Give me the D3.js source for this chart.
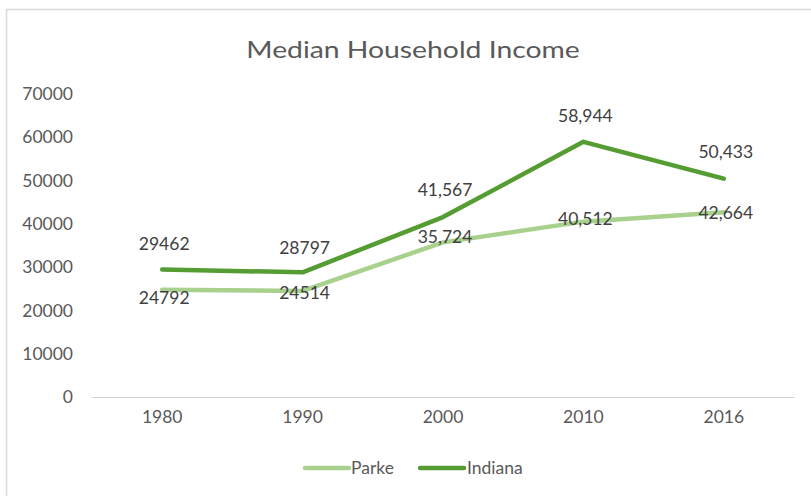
<!DOCTYPE html>
<html>
<head>
<meta charset="utf-8">
<script src="https://cdn.jsdelivr.net/npm/d3@7"></script>
<style>
  html, body { margin: 0; padding: 0; background: #fff; }
  svg { display: block; font-family: Lato, "Open Sans", sans-serif; }
</style>
</head>
<body>
<svg id="chart" width="811" height="496"></svg>
<script>
// Median household income, Parke County vs. Indiana
const years = ["1980", "1990", "2000", "2010", "2016"];
const parke = [24792, 24514, 35724, 40512, 42664];
const indiana = [29462, 28797, 41567, 58944, 50433];
const parkeLabels = ["24792", "24514", "35,724", "40,512", "42,664"];
const indianaLabels = ["29462", "28797", "41,567", "58,944", "50,433"];
const yTicks = [0, 10000, 20000, 30000, 40000, 50000, 60000, 70000];

const svg = d3.select("#chart");
const W = 811, H = 496;
const plot = { left: 92, right: 794, top: 94, bottom: 397 };
const FS = 17.5;

// chart frame
svg.append("rect")
  .attr("x", 6.5).attr("y", 9.5)
  .attr("width", W + 10).attr("height", H + 10)
  .attr("fill", "#fff").attr("stroke", "#d9d9d9").attr("stroke-width", 1.5);

svg.append("text")
  .attr("transform", "translate(413,58) scale(1.18,1)")
  .attr("text-anchor", "middle")
  .attr("font-size", 24)
  .attr("fill", "#595959")
  .text("Median Household Income");

const x = d3.scaleBand().domain(years).range([plot.left, plot.right]);
const y = d3.scaleLinear().domain([0, 70000]).range([plot.bottom, plot.top]);
const cx = d => x(d) + x.bandwidth() / 2;

// y axis labels (no line)
const yAxis = svg.append("g")
  .attr("transform", `translate(${plot.left - 8},0)`)
  .call(d3.axisLeft(y).tickValues(yTicks).tickSize(0).tickPadding(11).tickFormat(d3.format("d")));
yAxis.select(".domain").remove();
yAxis.selectAll("text").attr("font-size", FS).attr("fill", "#595959").attr("font-family", "Lato, sans-serif");

// x axis
const xAxis = svg.append("g")
  .attr("transform", `translate(0,${plot.bottom})`)
  .call(d3.axisBottom(x).tickSize(0).tickPadding(14));
xAxis.select(".domain").attr("stroke", "#d0d0d0").attr("stroke-width", 1.2);
xAxis.selectAll("text").attr("font-size", FS).attr("fill", "#595959").attr("font-family", "Lato, sans-serif");

const line = d3.line().x(d => cx(d.year)).y(d => y(d.value));
const series = [
  { name: "Parke", values: parke, labels: parkeLabels, color: "#a9d18e", dy: [8, 2, -5, -3, 1] },
  { name: "Indiana", values: indiana, labels: indianaLabels, color: "#559c33", dy: [-26, -24, -27, -26, -27] }
];

series.forEach(s => {
  const pts = years.map((yr, i) => ({ year: yr, value: s.values[i] }));
  svg.append("path")
    .datum(pts)
    .attr("d", line)
    .attr("fill", "none")
    .attr("stroke", s.color)
    .attr("stroke-width", 4.5)
    .attr("stroke-linejoin", "round")
    .attr("stroke-linecap", "round");
});

series.forEach(s => {
  svg.append("g").selectAll("text")
    .data(years)
    .join("text")
    .attr("x", (d, i) => cx(d) + 2)
    .attr("y", (d, i) => y(s.values[i]) + s.dy[i])
    .attr("dy", "0.35em")
    .attr("text-anchor", "middle")
    .attr("font-size", FS)
    .attr("fill", "#404040")
    .text((d, i) => s.labels[i]);
});

// legend
const legend = svg.append("g").attr("transform", "translate(305,468)");
const items = [
  { s: series[0], x: 0, tx: 46 },
  { s: series[1], x: 115, tx: 162 }
];
items.forEach(it => {
  legend.append("line")
    .attr("x1", it.x).attr("x2", it.x + 44)
    .attr("y1", 0).attr("y2", 0)
    .attr("stroke", it.s.color).attr("stroke-width", 4.5).attr("stroke-linecap", "round");
  legend.append("text")
    .attr("x", it.tx).attr("y", 0).attr("dy", "0.35em")
    .attr("font-size", FS).attr("fill", "#595959")
    .text(it.s.name);
});
</script>
</body>
</html>
